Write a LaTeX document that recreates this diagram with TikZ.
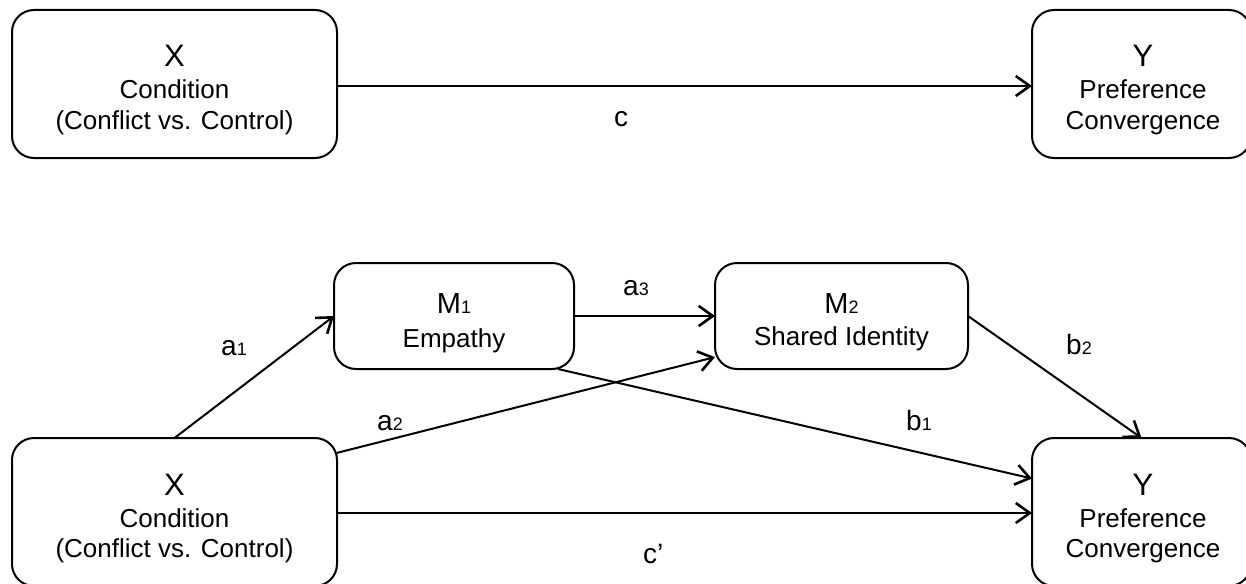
\documentclass[tikz,border=0pt]{standalone}
\usepackage{fontspec}
\setmainfont{Liberation Sans}
\usetikzlibrary{arrows.meta}
\begin{document}
\begin{tikzpicture}[x=1pt,y=-1pt,
  box/.style={draw, line width=2pt, rounded corners=22pt, inner sep=0pt, outer sep=0pt},
  bigbox/.style={box, minimum height=148pt},
  midbox/.style={box, minimum height=106pt},
  arr/.style={line width=2pt, -{Straight Barb[length=14pt,width=20pt,line width=2.6pt]}},
  head/.style={anchor=base, inner sep=0pt, font=\fontsize{31}{36}\selectfont},
  mhead/.style={anchor=base, inner sep=0pt, font=\fontsize{29}{34}\selectfont},
  small/.style={anchor=base, inner sep=0pt, font=\fontsize{26}{30}\selectfont},
  lab/.style={anchor=base west, inner sep=0pt, font=\fontsize{28}{32}\selectfont}]
\useasboundingbox (0,0) rectangle (1246,583);
\clip (0,0) rectangle (1246,583);
\newcommand\subn[1]{{\fontsize{18}{20}\selectfont #1}}
% boxes
\node[bigbox, minimum width=325pt] (tX) at (174.5,84) {};
\node[bigbox, minimum width=219pt] (tY) at (1141.5,84) {};
\node[bigbox, minimum width=325pt] (bX) at (174.5,512) {};
\node[bigbox, minimum width=219pt] (bY) at (1141.5,512) {};
\node[midbox, minimum width=240pt] (M1) at (454,316) {};
\node[midbox, minimum width=253pt] (M2) at (841.5,316) {};
% texts
\node[head] (tXa) at (174.5,67) {X};
\node[small] (tXb) at (174.5,99) {Condition};
\node[small] (tXc) at (174.5,129) {(Conflict vs. Control)};
\node[head] (tYa) at (1143,67) {Y};
\node[small] (tYb) at (1143,99) {Preference};
\node[small] (tYc) at (1143,129) {Convergence};
\node[head] (bXa) at (174.5,495) {X};
\node[small] (bXb) at (174.5,527) {Condition};
\node[small] (bXc) at (174.5,557) {(Conflict vs. Control)};
\node[head] (bYa) at (1143,495) {Y};
\node[small] (bYb) at (1143,527) {Preference};
\node[small] (bYc) at (1143,557) {Convergence};
\node[mhead] (M1a) at (454,313) {M\subn{1}};
\node[small] (M1b) at (454,347) {Empathy};
\node[mhead] (M2a) at (841.5,313) {M\subn{2}};
\node[small] (M2b) at (841.5,345) {Shared Identity};
% connectors
\draw[arr] ([yshift=-2pt]tX.east) -- ([yshift=-2pt]tY.west);
\draw[arr] (bX.north) -- (M1.west);
\draw[arr] (M1.east) -- (M2.west);
\draw[arr] (bX.20) -- (M2.198);
\draw[arr] (M1.333) -- (bY.163);
\draw[arr] (M2.east) -- (bY.north);
\draw[arr] ([yshift=-1pt]bX.east) -- ([yshift=-1pt]bY.west);
% path labels
\node[lab] (lc) at (614,127) {c};
\node[lab] (lcp) at (643,563) {c’};
\node[lab] (la1) at (221,355) {a\subn{1}};
\node[lab] (la2) at (377,430) {a\subn{2}};
\node[lab] (la3) at (623,295) {a\subn{3}};
\node[lab] (lb1) at (906,430) {b\subn{1}};
\node[lab] (lb2) at (1066,354) {b\subn{2}};
\end{tikzpicture}
\end{document}
